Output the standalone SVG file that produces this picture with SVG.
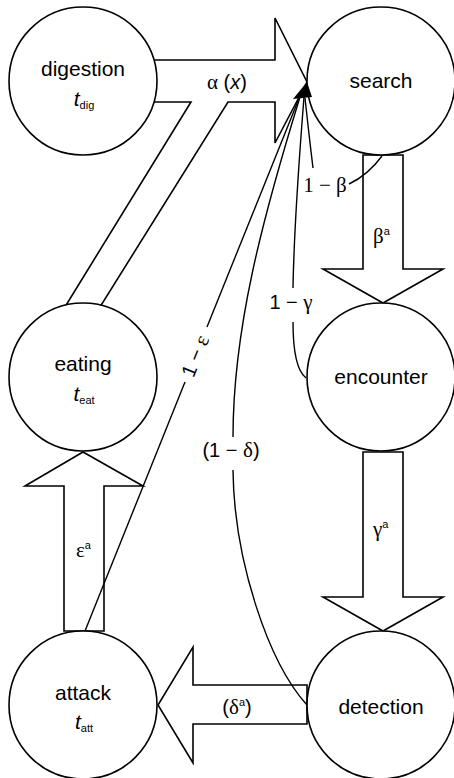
<svg xmlns="http://www.w3.org/2000/svg" width="454" height="778" viewBox="0 0 454 778">
<style>
.blk{fill:#fff;stroke:#000;stroke-width:1.6;stroke-linejoin:miter}
.node circle{fill:#fff;stroke:#000;stroke-width:1.6}
.cv{fill:none;stroke:#000;stroke-width:1.4}
.nt{font-family:"Liberation Sans",Arial,sans-serif;font-size:21px;text-anchor:middle;fill:#000}
.lb{font-family:"Liberation Sans",Arial,sans-serif;font-size:20px;fill:#000}
.gr{font-family:"Liberation Serif","Times New Roman",serif;font-size:21px}
.it{font-style:italic}
.sub{font-size:11px}
</style>
<rect width="454" height="778" fill="#fff"/>
<g id="block-arrows">
<polygon class="blk" points="140,60 275,60 275,18 307,82 275,143 275,102 228,102 95,315 60,315 191,102 140,102"/>
<polygon class="blk" points="363,155 403,155 403,269 443,269 383,303 323,269 363,269"/>
<polygon class="blk" points="363,452 403,452 403,597 443,597 383,631 323,597 363,597"/>
<polygon class="blk" points="307,685 307,724 193,724 193,763 158,705 193,647 193,685"/>
<polygon class="blk" points="64,631 104,631 104,486 143,486 83,452 25,486 64,486"/>
</g>
<g id="digestion" class="node"><circle cx="83" cy="81" r="74"/><text class="nt" x="83" y="76">digestion</text><text class="nt" x="84" y="106"><tspan class="it" font-size="21">t</tspan><tspan class="sub" dy="3">dig</tspan></text></g>
<g id="search" class="node"><circle cx="381" cy="81" r="74"/><text class="nt" x="381" y="88">search</text></g>
<g id="eating" class="node"><circle cx="83" cy="377" r="74"/><text class="nt" x="83" y="371">eating</text><text class="nt" x="84" y="401"><tspan class="it" font-size="21">t</tspan><tspan class="sub" dy="3">eat</tspan></text></g>
<g id="encounter" class="node"><circle cx="381" cy="377" r="74"/><text class="nt" x="381" y="384">encounter</text></g>
<g id="attack" class="node"><circle cx="83" cy="705" r="74"/><text class="nt" x="83" y="700">attack</text><text class="nt" x="84" y="729"><tspan class="it" font-size="21">t</tspan><tspan class="sub" dy="3">att</tspan></text></g>
<g id="detection" class="node"><circle cx="381" cy="705" r="74"/><text class="nt" x="381" y="714">detection</text></g>
<g id="connectors">
<path class="cv" d="M85,631 L185,382"/>
<path class="cv" d="M207,327 L300,96"/>
<path class="cv" d="M307,705 C268,662 234,560 233,470"/>
<path class="cv" d="M233,437 C233,330 262,220 300,97"/>
<path class="cv" d="M306,378 C297,371 293,352 293,322"/>
<path class="cv" d="M293,288 C294,230 299,160 304,97"/>
<path class="cv" d="M349,184 Q368,175 382,156"/>
<path class="cv" d="M313,168 Q309,135 305,98"/>
<polygon points="307,82 293,99 312,97" fill="#000"/>
</g>
<g id="labels">
<text class="lb" x="227" y="89" text-anchor="middle" font-size="21"><tspan class="gr">α</tspan>  (<tspan class="it">x</tspan>)</text>
<text class="lb gr" x="325" y="192" text-anchor="middle" font-size="22">1 − β</text>
<text class="lb" x="373" y="243"><tspan class="gr">β</tspan><tspan class="sub" dy="-8">a</tspan></text>
<text class="lb" x="291" y="309" text-anchor="middle" font-size="21">1 − <tspan class="gr">γ</tspan></text>
<text class="lb" x="195" y="356" text-anchor="middle" dy="0.35em" transform="rotate(-68 195 356)">1 − <tspan class="gr">ε</tspan></text>
<text class="lb" x="231" y="457" text-anchor="middle" font-size="21">(1 − <tspan class="gr">δ</tspan>)</text>
<text class="lb" x="373" y="536"><tspan class="gr">γ</tspan><tspan class="sub" dy="-8">a</tspan></text>
<text class="lb" x="76" y="557"><tspan class="gr">ε</tspan><tspan class="sub" dy="-8">a</tspan></text>
<text class="lb" x="237" y="714" text-anchor="middle">(<tspan class="gr">δ</tspan><tspan class="sub" dy="-8">a</tspan><tspan dy="8">)</tspan></text>
</g>
</svg>
